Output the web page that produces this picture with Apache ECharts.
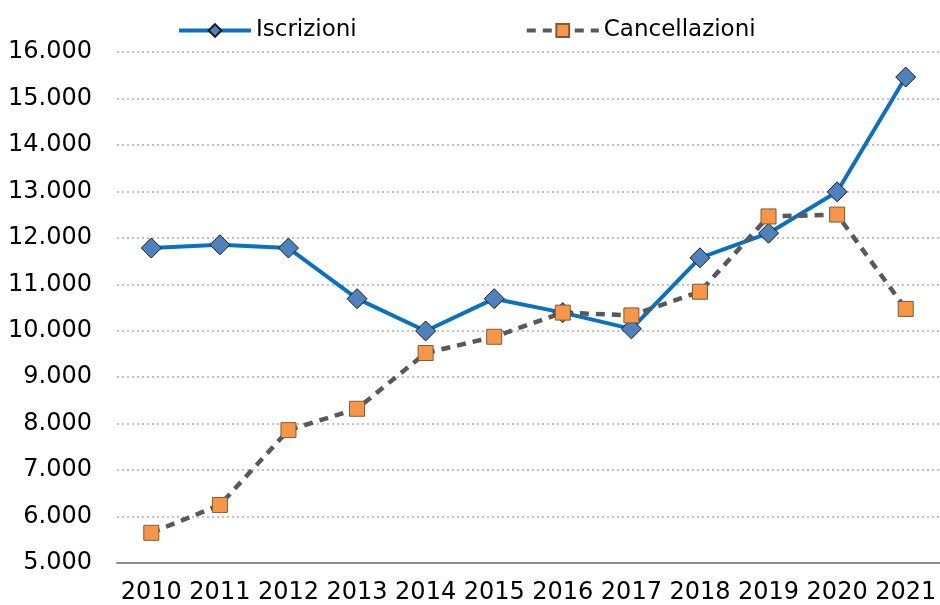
<!DOCTYPE html>
<html>
<head>
<meta charset="utf-8">
<script src="https://cdn.jsdelivr.net/npm/echarts@6/dist/echarts.min.js"></script>
<style>
  html, body { margin: 0; padding: 0; background: #fff; }
  #chart { width: 940px; height: 605px; }
</style>
</head>
<body>
<div id="chart"></div>
<script>
const years = ["2010", "2011", "2012", "2013", "2014", "2015", "2016", "2017", "2018", "2019", "2020", "2021"];
const iscrizioni = [11780, 11850, 11780, 10690, 9995, 10690, 10390, 10040, 11570, 12100, 12990, 15460];
const cancellazioni = [5650, 6250, 7860, 8320, 9520, 9870, 10390, 10330, 10840, 12460, 12500, 10470];

const font = "'DejaVu Sans', Verdana, sans-serif";
const fmt = (v) => String(v).replace(/\B(?=(\d{3})+(?!\d))/g, ".");

const chart = echarts.init(document.getElementById("chart"), null, { renderer: "canvas" });
chart.setOption({
  backgroundColor: "#fff",
  animation: false,
  textStyle: { fontFamily: font },
  legend: {
    top: 14,
    left: 172,
    itemWidth: 72,
    itemHeight: 16,
    itemGap: 168,
    textStyle: { fontSize: 23, color: "#000", fontFamily: font },
    data: [
      { name: "Iscrizioni", lineStyle: { width: 4 } },
      { name: "Cancellazioni", lineStyle: { width: 4 } },
    ],
  },
  grid: { left: 117, right: -2, top: 52, bottom: 42 },
  xAxis: {
    type: "category",
    data: years,
    boundaryGap: true,
    axisLine: { lineStyle: { color: "#8c8c8c", width: 2 } },
    axisTick: { show: false },
    axisLabel: { color: "#000", fontSize: 24, margin: 18, interval: 0, hideOverlap: false, fontFamily: font },
  },
  yAxis: {
    type: "value",
    min: 5000,
    max: 16000,
    interval: 1000,
    axisLine: { show: false },
    axisTick: { show: false },
    axisLabel: { color: "#000", fontSize: 24, margin: 25, fontFamily: font, formatter: fmt },
    splitLine: { lineStyle: { color: "#c0c0c0", width: 2, type: [2, 3] } },
  },
  series: [
    {
      name: "Iscrizioni",
      type: "line",
      data: iscrizioni,
      symbol: "diamond",
      symbolSize: 20,
      lineStyle: { color: "#0a70c0", width: 4 },
      itemStyle: { color: "#4f81bd", borderColor: "#1a1a1a", borderWidth: 1 },
    },
    {
      name: "Cancellazioni",
      type: "line",
      data: cancellazioni,
      symbol: "rect",
      symbolSize: 15,
      lineStyle: { color: "#595959", width: 4.5, type: [9, 7] },
      itemStyle: { color: "#f79646", borderColor: "#7f5a3a", borderWidth: 1 },
    },
  ],
});
</script>
</body>
</html>
